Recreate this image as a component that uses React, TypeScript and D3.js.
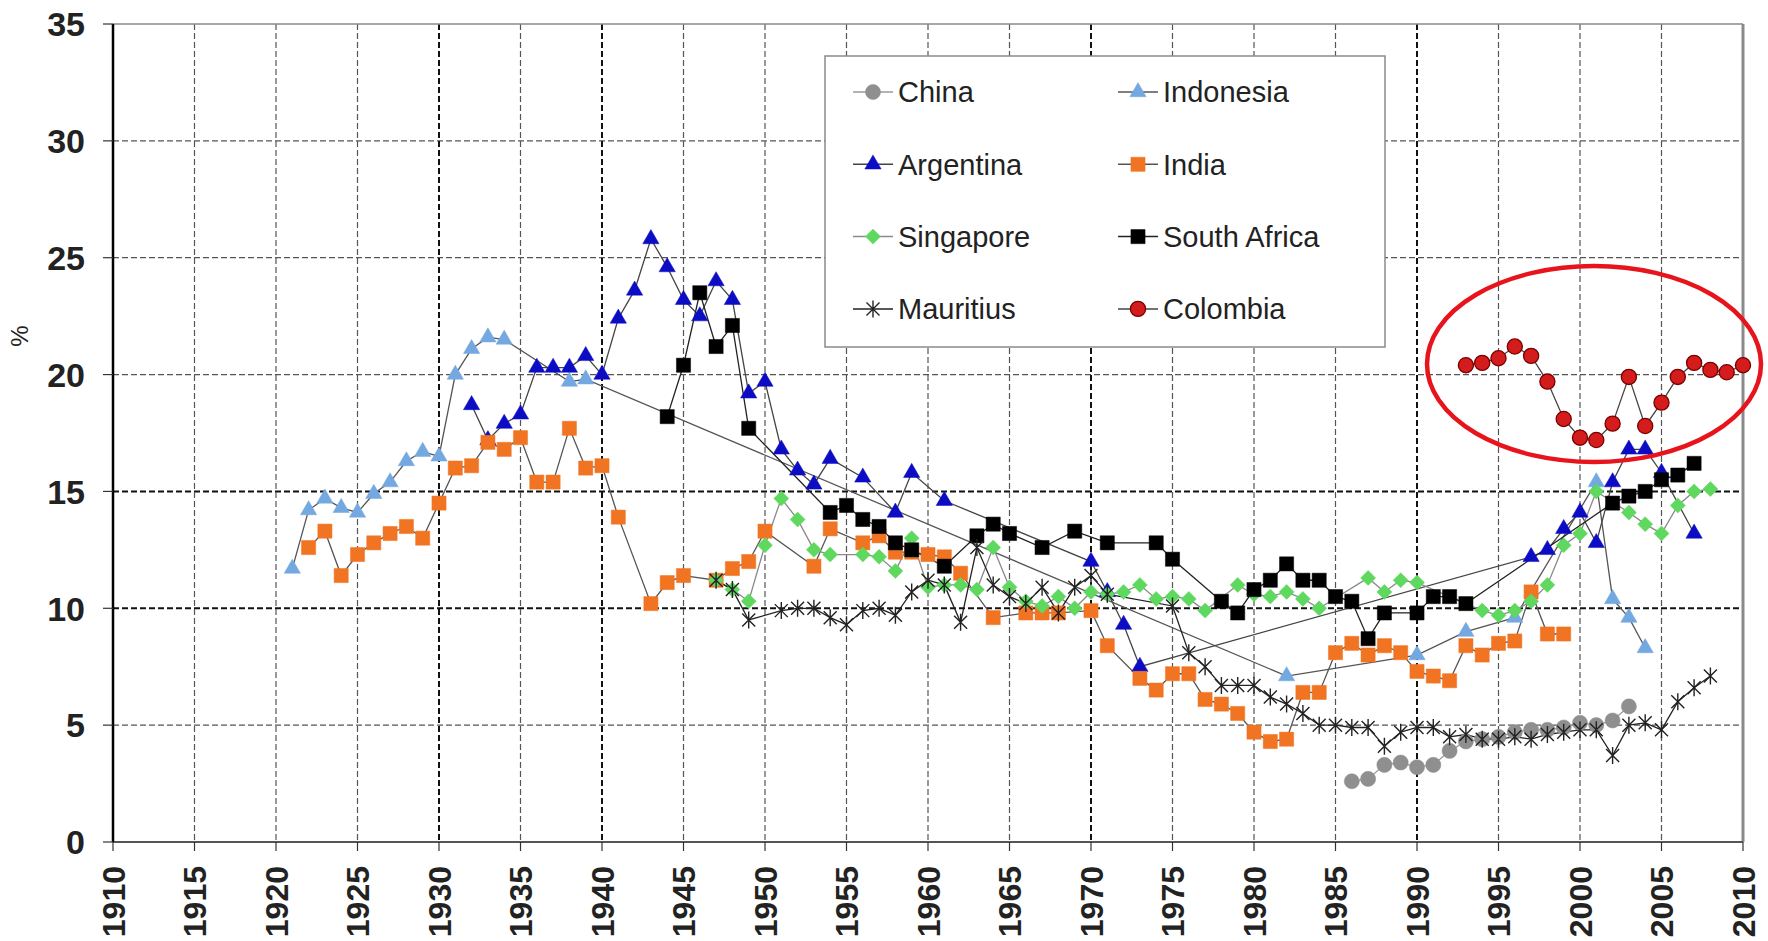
import React from "react";
import * as d3 from "d3";

type Pt = [number, number];

const yearTicks = d3.range(1910, 2011, 5);
const valueTicks = [0, 5, 10, 15, 20, 25, 30, 35];

const china: Pt[] = [
  [1986, 2.6], [1987, 2.7], [1988, 3.3], [1989, 3.4], [1990, 3.2], [1991, 3.3], [1992, 3.9],
  [1993, 4.3], [1994, 4.4], [1995, 4.5], [1996, 4.7], [1997, 4.8], [1998, 4.8], [1999, 4.9],
  [2000, 5.1], [2001, 5.0], [2002, 5.2], [2003, 5.8],
];

const indonesia: Pt[] = [
  [1921, 11.7], [1922, 14.2], [1923, 14.7], [1924, 14.3], [1925, 14.1], [1926, 14.9], [1927, 15.4],
  [1928, 16.3], [1929, 16.7], [1930, 16.5], [1931, 20.0], [1932, 21.1], [1933, 21.6], [1934, 21.5],
  [1938, 19.7], [1939, 19.8], [1982, 7.1], [1990, 8.0], [1993, 9.0], [1996, 9.6], [2001, 15.4],
  [2002, 10.4], [2003, 9.6], [2004, 8.3],
];

const argentina: Pt[] = [
  [1932, 18.7], [1933, 17.2], [1934, 17.9], [1935, 18.3], [1936, 20.3], [1937, 20.3], [1938, 20.3],
  [1939, 20.8], [1940, 20.0], [1941, 22.4], [1942, 23.6], [1943, 25.8], [1944, 24.6], [1945, 23.2],
  [1946, 22.5], [1947, 24.0], [1948, 23.2], [1949, 19.2], [1950, 19.7], [1951, 16.8], [1952, 15.9],
  [1953, 15.3], [1954, 16.4], [1956, 15.6], [1958, 14.1], [1959, 15.8], [1961, 14.6], [1970, 12.0],
  [1971, 10.7], [1972, 9.3], [1973, 7.5], [1997, 12.2], [1998, 12.5], [1999, 13.4], [2000, 14.1],
  [2001, 12.8], [2002, 15.4], [2003, 16.8], [2004, 16.8], [2005, 15.8], [2007, 13.2],
];

const india: Pt[] = [
  [1922, 12.6], [1923, 13.3], [1924, 11.4], [1925, 12.3], [1926, 12.8], [1927, 13.2], [1928, 13.5],
  [1929, 13.0], [1930, 14.5], [1931, 16.0], [1932, 16.1], [1933, 17.1], [1934, 16.8], [1935, 17.3],
  [1936, 15.4], [1937, 15.4], [1938, 17.7], [1939, 16.0], [1940, 16.1], [1941, 13.9], [1943, 10.2],
  [1944, 11.1], [1945, 11.4], [1947, 11.2], [1948, 11.7], [1949, 12.0], [1950, 13.3], [1953, 11.8],
  [1954, 13.4], [1956, 12.8], [1957, 13.1], [1958, 12.4], [1959, 12.4], [1960, 12.3], [1961, 12.2],
  [1962, 11.5], [1964, 9.6], [1966, 9.8], [1967, 9.8], [1968, 9.8], [1970, 9.9], [1971, 8.4],
  [1973, 7.0], [1974, 6.5], [1975, 7.2], [1976, 7.2], [1977, 6.1], [1978, 5.9], [1979, 5.5],
  [1980, 4.7], [1981, 4.3], [1982, 4.4], [1983, 6.4], [1984, 6.4], [1985, 8.1], [1986, 8.5],
  [1987, 8.0], [1988, 8.4], [1989, 8.1], [1990, 7.3], [1991, 7.1], [1992, 6.9], [1993, 8.4],
  [1994, 8.0], [1995, 8.5], [1996, 8.6], [1997, 10.7], [1998, 8.9], [1999, 8.9],
];

const singapore: Pt[] = [
  [1947, 11.2], [1948, 10.8], [1949, 10.3], [1950, 12.7], [1951, 14.7], [1952, 13.8], [1953, 12.5],
  [1954, 12.3], [1956, 12.3], [1957, 12.2], [1958, 11.6], [1959, 13.0], [1960, 10.9], [1961, 11.0],
  [1962, 11.0], [1963, 10.8], [1964, 12.6], [1965, 10.9], [1966, 10.3], [1967, 10.1], [1968, 10.5],
  [1969, 10.0], [1970, 10.7], [1971, 10.6], [1972, 10.7], [1973, 11.0], [1974, 10.4], [1975, 10.5],
  [1976, 10.4], [1977, 9.9], [1979, 11.0], [1980, 10.6], [1981, 10.5], [1982, 10.7], [1983, 10.4],
  [1984, 10.0], [1987, 11.3], [1988, 10.7], [1989, 11.2], [1990, 11.1], [1994, 9.9], [1995, 9.7],
  [1996, 9.9], [1997, 10.3], [1998, 11.0], [1999, 12.7], [2000, 13.2], [2001, 15.0], [2003, 14.1],
  [2004, 13.6], [2005, 13.2], [2006, 14.4], [2007, 15.0], [2008, 15.1],
];

const southAfrica: Pt[] = [
  [1944, 18.2], [1945, 20.4], [1946, 23.5], [1947, 21.2], [1948, 22.1], [1949, 17.7], [1954, 14.1],
  [1955, 14.4], [1956, 13.8], [1957, 13.5], [1958, 12.8], [1959, 12.5], [1961, 11.8], [1963, 13.1],
  [1964, 13.6], [1965, 13.2], [1967, 12.6], [1969, 13.3], [1971, 12.8], [1974, 12.8], [1975, 12.1],
  [1978, 10.3], [1979, 9.8], [1980, 10.8], [1981, 11.2], [1982, 11.9], [1983, 11.2], [1984, 11.2],
  [1985, 10.5], [1986, 10.3], [1987, 8.7], [1988, 9.8], [1990, 9.8], [1991, 10.5], [1992, 10.5],
  [1993, 10.2], [2002, 14.5], [2003, 14.8], [2004, 15.0], [2005, 15.5], [2006, 15.7], [2007, 16.2],
];

const mauritius: Pt[] = [
  [1947, 11.2], [1948, 10.8], [1949, 9.5], [1951, 9.9], [1952, 10.0], [1953, 10.0], [1954, 9.6],
  [1955, 9.3], [1956, 9.9], [1957, 10.0], [1958, 9.7], [1959, 10.7], [1960, 11.2], [1961, 11.0],
  [1962, 9.4], [1963, 12.6], [1964, 11.0], [1965, 10.5], [1966, 10.2], [1967, 10.9], [1968, 9.8],
  [1969, 10.9], [1970, 11.4], [1971, 10.6], [1975, 10.1], [1976, 8.1], [1977, 7.5], [1978, 6.7],
  [1979, 6.7], [1980, 6.7], [1981, 6.2], [1982, 5.9], [1983, 5.5], [1984, 5.0], [1985, 5.0],
  [1986, 4.9], [1987, 4.9], [1988, 4.1], [1989, 4.7], [1990, 4.9], [1991, 4.9], [1992, 4.5],
  [1993, 4.6], [1994, 4.4], [1995, 4.4], [1996, 4.5], [1997, 4.4], [1998, 4.6], [1999, 4.7],
  [2000, 4.8], [2001, 4.8], [2002, 3.7], [2003, 5.0], [2004, 5.1], [2005, 4.8], [2006, 6.0],
  [2007, 6.6], [2008, 7.1],
];

const colombia: Pt[] = [
  [1993, 20.4], [1994, 20.5], [1995, 20.7], [1996, 21.2], [1997, 20.8], [1998, 19.7], [1999, 18.1],
  [2000, 17.3], [2001, 17.2], [2002, 17.9], [2003, 19.9], [2004, 17.8], [2005, 18.8], [2006, 19.9],
  [2007, 20.5], [2008, 20.2], [2009, 20.1], [2010, 20.4],
];

type Shape = "circle" | "triangle" | "square" | "diamond" | "asterisk";

interface Series {
  name: string;
  data: Pt[];
  shape: Shape;
  fill: string;
  stroke: string;
  line: string;
}

const seriesList: Series[] = [
  { name: "China", data: china, shape: "circle", fill: "#8f8f8f", stroke: "#8f8f8f", line: "#9a9a9a" },
  { name: "Indonesia", data: indonesia, shape: "triangle", fill: "#74a8e0", stroke: "#74a8e0", line: "#555" },
  { name: "Argentina", data: argentina, shape: "triangle", fill: "#0c0cc4", stroke: "#0c0cc4", line: "#444" },
  { name: "India", data: india, shape: "square", fill: "#f07422", stroke: "#f07422", line: "#555" },
  { name: "Singapore", data: singapore, shape: "diamond", fill: "#5fd85f", stroke: "#5fd85f", line: "#8a8a8a" },
  { name: "South Africa", data: southAfrica, shape: "square", fill: "#000", stroke: "#000", line: "#222" },
  { name: "Mauritius", data: mauritius, shape: "asterisk", fill: "none", stroke: "#222", line: "#222" },
  { name: "Colombia", data: colombia, shape: "circle", fill: "#d41c1c", stroke: "#7a0000", line: "#444" },
];

const legendOrder = [
  ["China", "Indonesia"],
  ["Argentina", "India"],
  ["Singapore", "South Africa"],
  ["Mauritius", "Colombia"],
];

const W = 1768;
const H = 941;
const left = 113;
const right = 1743;
const top = 24;
const bottom = 842;

const x = d3.scaleLinear().domain([1910, 2010]).range([left, right]);
const y = d3.scaleLinear().domain([0, 35]).range([bottom, top]);

function markerPath(shape: Shape): string {
  switch (shape) {
    case "circle":
      return d3.symbol(d3.symbolCircle, 180)() as string;
    case "triangle":
      return d3.symbol(d3.symbolTriangle, 115)() as string;
    case "square":
      return d3.symbol(d3.symbolSquare, 200)() as string;
    case "diamond": {
      const r = 7.5;
      return `M0,${-r}L${r},0L0,${r}L${-r},0Z`;
    }
    case "asterisk": {
      const s = 6.5;
      return `M${-s},${-s}L${s},${s}M${-s},${s}L${s},${-s}M0,${-s - 2}L0,${s + 2}`;
    }
  }
}

function Marker({ s, cx, cy }: { s: Series; cx: number; cy: number }) {
  const d = markerPath(s.shape);
  if (s.shape === "asterisk") {
    return <path d={d} transform={`translate(${cx},${cy})`} fill="none" stroke={s.stroke} strokeWidth={1.4} />;
  }
  return (
    <path
      d={d}
      transform={`translate(${cx},${cy})`}
      fill={s.fill}
      stroke={s.stroke}
      strokeWidth={s.name === "Colombia" ? 1.3 : 0.5}
    />
  );
}

const heavyY = new Set([10, 15]);
const heavyX = new Set([1930, 1940, 1970, 1990]);

export default function App() {
  const line = d3
    .line<Pt>()
    .x((d) => x(d[0]))
    .y((d) => y(d[1]));

  const font = "'Liberation Sans', Arial, sans-serif";

  return (
    <svg
      width={W}
      height={H}
      style={{ position: "absolute", left: 0, top: 0, background: "#fff" }}
      fontFamily={font}
    >
      <rect x={0} y={0} width={W} height={H} fill="#fff" />

      {valueTicks
        .filter((v) => v > 0 && v < 35)
        .map((v) => (
          <line
            key={"hg" + v}
            x1={left}
            x2={right}
            y1={y(v)}
            y2={y(v)}
            stroke={heavyY.has(v) ? "#111" : "#555"}
            strokeWidth={heavyY.has(v) ? 2 : 1.2}
            strokeDasharray="6,3"
          />
        ))}
      {yearTicks
        .filter((t) => t > 1910 && t < 2010)
        .map((t) => (
          <line
            key={"vg" + t}
            x1={x(t)}
            x2={x(t)}
            y1={top}
            y2={bottom}
            stroke={heavyX.has(t) ? "#111" : "#555"}
            strokeWidth={heavyX.has(t) ? 2 : 1.2}
            strokeDasharray="6,3"
          />
        ))}

      <line x1={left} x2={right} y1={top} y2={top} stroke="#8a8a8a" strokeWidth={1.5} />
      <line x1={right} x2={right} y1={top} y2={bottom} stroke="#8a8a8a" strokeWidth={3} />
      <line x1={left} x2={right} y1={bottom} y2={bottom} stroke="#555" strokeWidth={2} />
      <line x1={left} x2={left} y1={top} y2={bottom} stroke="#000" strokeWidth={2.5} />

      {valueTicks.map((v) => (
        <g key={"yt" + v}>
          <line x1={left - 10} x2={left} y1={y(v)} y2={y(v)} stroke="#333" strokeWidth={1.2} />
          <text
            x={85}
            y={y(v)}
            dy="0.36em"
            textAnchor="end"
            fontSize={34}
            fontWeight="bold"
            fill="#222"
          >
            {v}
          </text>
        </g>
      ))}
      <text
        transform={`translate(28,${336}) rotate(-90)`}
        textAnchor="middle"
        fontSize={24}
        fill="#222"
      >
        %
      </text>

      {yearTicks.map((t) => (
        <g key={"xt" + t}>
          <line x1={x(t)} x2={x(t)} y1={bottom} y2={bottom + 9} stroke="#333" strokeWidth={1.2} />
          <text
            transform={`translate(${x(t) + 11.5},${866}) rotate(-90)`}
            textAnchor="end"
            fontSize={32}
            fontWeight="bold"
            fill="#222"
          >
            {t}
          </text>
        </g>
      ))}

      {seriesList.map((s) => (
        <path key={"l" + s.name} d={line(s.data) || ""} fill="none" stroke={s.line} strokeWidth={1.3} />
      ))}
      {seriesList.map((s) => (
        <g key={"m" + s.name}>
          {s.data.map((d, i) => (
            <Marker key={i} s={s} cx={x(d[0])} cy={y(d[1])} />
          ))}
        </g>
      ))}

      <ellipse cx={1594} cy={364} rx={167} ry={98} fill="none" stroke="#e8141c" strokeWidth={4.5} />

      <rect x={825} y={56} width={560} height={291} fill="#fff" stroke="#8a8a8a" strokeWidth={1.5} />
      {legendOrder.map((row, ri) =>
        row.map((name, ci) => {
          const s = seriesList.find((q) => q.name === name)!;
          const mx = ci === 0 ? 873 : 1138;
          const my = 92 + ri * 72.3;
          return (
            <g key={"lg" + name}>
              <line x1={mx - 20} x2={mx + 20} y1={my} y2={my} stroke={s.line} strokeWidth={1.5} />
              <Marker s={s} cx={mx} cy={my} />
              <text x={mx + 25} y={my} dy="0.36em" fontSize={29} fill="#222">
                {name}
              </text>
            </g>
          );
        })
      )}
    </svg>
  );
}
